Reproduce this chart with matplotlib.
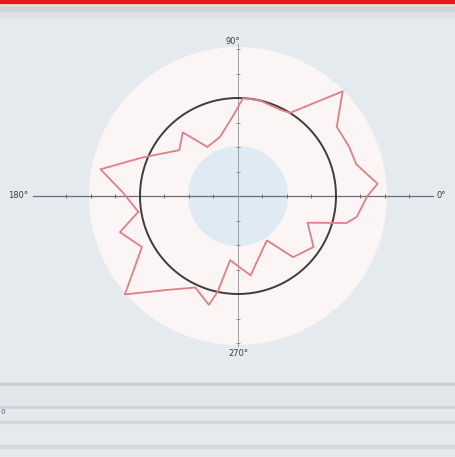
import numpy as np
import matplotlib
matplotlib.use("Agg")
import matplotlib.pyplot as plt
from matplotlib.patches import Circle, Rectangle

# Polar response: angle (degrees) and radius (reference circle = 1.0)
angle_deg = [-171, -163, -152, -139, -127, -115, -105, -102, -97, -81,
             -57, -48, -34, -21, -14, -10, 0, 5, 15, 24, 35, 45, 58, 64, 77, 87,
             94, 107, 122, 131, 142, 158, 169, 178]
radius = [1.03, 1.26, 1.11, 1.53, 1.20, 1.03, 1.15, 1.00, 0.66, 0.82,
          0.54, 0.84, 0.93, 0.76, 1.14, 1.23, 1.32, 1.43, 1.25, 1.24, 1.23, 1.51,
          1.00, 0.98, 1.00, 1.00, 0.81, 0.63, 0.59, 0.86, 0.76, 1.05, 1.43, 1.18]

ref_radius = 1.0
outer_radius = 1.52
inner_radius = 0.51
axis_labels = ["0°", "90°", "180°", "270°"]

W, H = 456, 457
cx, cy = 238, 196          # centre in pixels from the top-left
unit = 98.0                # pixels per radial unit

fig = plt.figure(figsize=(W / 100, H / 100), dpi=100)
fig.patch.set_facecolor("#e5eaef")
ax = fig.add_axes([0, 0, 1, 1])
ax.set_xlim(-cx / unit, (W - cx) / unit)
ax.set_ylim(-(H - cy) / unit, cy / unit)
ax.set_aspect("auto")
ax.axis("off")
ax.set_facecolor("none")

# window chrome
fig.add_artist(Rectangle((0, 1 - 2.5 / H), 1, 2.5 / H, transform=fig.transFigure,
                         color="#e3161e", zorder=0))
fig.add_artist(Rectangle((0, 1 - 12 / H), 1, 6 / H, transform=fig.transFigure,
                         color="#d0d4d9", zorder=0))
fig.add_artist(Rectangle((0, 1 - 17 / H), 1, 5 / H, transform=fig.transFigure,
                         color="#dde1e5", zorder=0))
for y0, h, c in [(383, 3, "#c9cdd2"), (386, 20, "#e0e6ea"), (406, 3, "#cfd3d8"),
                 (409, 12, "#e4e9ee"), (421, 2, "#d2d6db"), (445, 3, "#d4d8dd")]:
    fig.add_artist(Rectangle((0, 1 - (y0 + h) / H), 1, h / H, transform=fig.transFigure,
                             color=c, zorder=0))
fig.text(1 / W, 1 - 412 / H, "0", fontsize=5, color="#5a5f66", va="center", ha="left")

# discs
ax.add_patch(Circle((0, 0), outer_radius, facecolor="#fbf6f5", edgecolor="none", zorder=1))
ax.add_patch(Circle((0, 0), inner_radius, facecolor="#e0eaf3", edgecolor="none", zorder=2))

# axes cross
ax.plot([-205 / unit, 195 / unit], [0, 0], color="#6a6e74", lw=0.9, zorder=3)
ax.plot([0, 0], [-150 / unit, 152 / unit], color="#9aa0a6", lw=0.7, zorder=3)
ticks = np.arange(-2.0, 2.01, 0.25)
ticks = ticks[np.abs(ticks) > 0.01]
ht = ticks[np.abs(ticks) < 2.0]
ax.plot(ht, np.zeros(len(ht)), "|", color="#6a6e74", ms=2.5, mew=0.7, zorder=3)
vt = ticks[np.abs(ticks) <= 1.5]
ax.plot(np.zeros(len(vt)), vt, "_", color="#8a9096", ms=2.5, mew=0.7, zorder=3)

# reference circle
t = np.linspace(0, 2 * np.pi, 400)
ax.plot(ref_radius * np.cos(t), ref_radius * np.sin(t), color="#3c3c3e", lw=1.4, zorder=4)

# response curve
a = np.deg2rad(np.array(angle_deg + [angle_deg[0]]))
r = np.array(radius + [radius[0]])
ax.plot(r * np.cos(a), r * np.sin(a), color="#e27f86", lw=1.3, zorder=5,
        solid_joinstyle="round")

# angle labels
lab_kw = dict(fontsize=6, color="#3a3d42", va="center")
ax.text(203 / unit, 0, axis_labels[0], ha="center", **lab_kw)
ax.text(-5 / unit, 155 / unit, axis_labels[1], ha="center", **lab_kw)
ax.text(-220 / unit, 0, axis_labels[2], ha="center", **lab_kw)
ax.text(0, -157 / unit, axis_labels[3], ha="center", **lab_kw)

fig.savefig("out.png", dpi=100, facecolor=fig.get_facecolor())
